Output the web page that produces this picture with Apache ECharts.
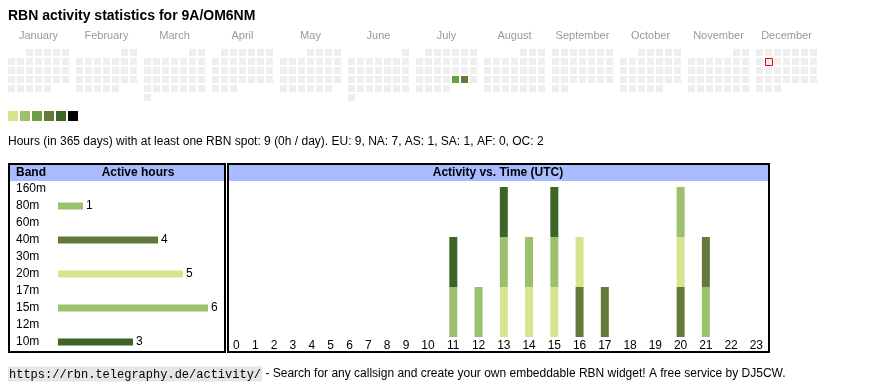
<!DOCTYPE html>
<html><head><meta charset="utf-8">
<script src="https://cdn.jsdelivr.net/npm/echarts@6/dist/echarts.min.js"></script>
<style>html,body{margin:0;padding:0;background:#fff}#c{width:870px;height:390px}</style>
</head><body><div id="c"></div>
<script>
// ---------- data ----------
const callsign = '9A/OM6NM';
const year = 2025;
const monthNames = ['January','February','March','April','May','June','July','August','September','October','November','December'];
const activeDays = [['2025-07-25', 3], ['2025-07-26', 6]];   // hours with spots per day
const todayDate = '2025-12-09';
const levelColors = ['#d9e38c', '#9cc06b', '#6aa045', '#637a3a', '#3d6527', '#000000'];
const levelMins = [1, 2, 3, 5, 9, 17];
const levelMaxs = [1, 2, 4, 8, 16, 24];
const regionNames = ['EU', 'NA', 'AS', 'SA', 'AF', 'OC'];
const regionHours = [9, 7, 1, 1, 0, 2];
const bands = ['160m', '80m', '60m', '40m', '30m', '20m', '17m', '15m', '12m', '10m'];
const bandHours = [0, 1, 0, 4, 0, 5, 0, 6, 0, 3];
const bandColors = ['#000000', '#9cc06b', '#6aa045', '#637a3a', '#3d6527', '#d9e38c', '#6aa045', '#9cc06b', '#637a3a', '#3d6527'];
const hourLabels = ['0','1','2','3','4','5','6','7','8','9','10','11','12','13','14','15','16','17','18','19','20','21','22','23'];
// band active in each UTC hour, stacked bottom -> top
const layer1 = ['','','','','','','','','','','','15m','15m','20m','20m','20m','40m','40m','','','40m','15m','',''];
const layer2 = ['','','','','','','','','','','','10m','','15m','15m','15m','20m','','','','20m','40m','',''];
const layer3 = ['','','','','','','','','','','','','','10m','','10m','','','','','80m','','',''];

// ---------- derived ----------
const dayMap = {};
activeDays.forEach(d => { dayMap[d[0]] = d[1]; });
const calData = [];
for (let m = 0; m < 12; m++) {
  const first = new Date(Date.UTC(year, m, 1));
  const firstWd = (first.getUTCDay() + 6) % 7;
  const nDays = new Date(Date.UTC(year, m + 1, 0)).getUTCDate();
  for (let d = 1; d <= nDays; d++) {
    const idx = firstWd + d - 1;
    const ds = year + '-' + String(m + 1).padStart(2, '0') + '-' + String(d).padStart(2, '0');
    calData.push([m, idx % 7, Math.floor(idx / 7), dayMap[ds] || 0, ds === todayDate ? 1 : 0]);
  }
}
const totalHours = activeDays.reduce((s, d) => s + d[1], 0);
const statsText = 'Hours (in 365 days) with at least one RBN spot: ' + totalHours + ' (' + Math.round(totalHours / 365) + 'h / day). ' +
  regionNames.map((r, i) => r + ': ' + regionHours[i]).join(', ');

// hour columns (width depends on label length, like a table)
const colPad = 12.4, digitW = 6.4;
const hourCenters = [];
let acc = 0;
hourLabels.forEach(h => { const w = colPad + digitW * h.length; hourCenters.push(acc + w / 2); acc += w; });
const timeData = [];
[layer1, layer2, layer3].forEach((layer, level) => {
  layer.forEach((b, i) => { if (b) timeData.push([hourCenters[i], level, bands.indexOf(b)]); });
});

// ---------- layout constants ----------
const monthSlot = 68, cellPitch = 9, cellSize = 7, monthPad = (monthSlot - (6 * cellPitch + cellSize)) / 2;
const FONT = 'Liberation Sans, Arial, sans-serif';

const chart = echarts.init(document.getElementById('c'));
chart.setOption({
  animation: false,
  backgroundColor: '#fff',
  title: {
    text: 'RBN activity statistics for ' + callsign, left: 8, top: 8, padding: 0,
    textStyle: { fontFamily: FONT, fontSize: 14, fontWeight: 'bold', color: '#000', lineHeight: 16 }
  },
  visualMap: {
    type: 'piecewise', seriesIndex: 0, dimension: 3, orient: 'horizontal',
    left: 8, top: 111, padding: 0, itemWidth: 10, itemHeight: 10, itemGap: 2, itemSymbol: 'rect',
    showLabel: false, selectedMode: false, hoverLink: false,
    pieces: levelColors.map((c, i) => ({ min: levelMins[i], max: levelMaxs[i], color: c })),
    outOfRange: { color: '#eeeeee' }
  },
  grid: [
    { left: 4.5, top: 49, width: 816, height: 54 },
    { left: 58, top: 180.5, width: 150, height: 170 },
    { left: 227, top: 187, width: 542, height: 150 }
  ],
  xAxis: [
    { gridIndex: 0, type: 'value', min: 0, max: 816, show: false },
    { gridIndex: 0, type: 'category', position: 'top', data: monthNames,
      axisLine: { show: false }, axisTick: { show: false }, splitLine: { show: false },
      axisLabel: { color: '#999', fontFamily: FONT, fontSize: 11, margin: 8, interval: 0 } },
    { gridIndex: 1, type: 'value', min: 0, max: 6, show: false },
    { gridIndex: 2, type: 'value', min: 0, max: acc,
      axisLine: { show: false }, axisTick: { show: false }, splitLine: { show: false },
      axisLabel: { customValues: hourCenters, color: '#000', fontFamily: FONT, fontSize: 12, margin: 3,
        formatter: function (v) {
          let best = 0;
          hourCenters.forEach((c, i) => { if (Math.abs(c - v) < Math.abs(hourCenters[best] - v)) best = i; });
          return hourLabels[best];
        } } }
  ],
  yAxis: [
    { gridIndex: 0, type: 'value', min: 0, max: 54, inverse: true, show: false },
    { gridIndex: 1, type: 'category', data: bands, inverse: true,
      axisLine: { show: false }, axisTick: { show: false }, splitLine: { show: false },
      axisLabel: { align: 'left', margin: 42, color: '#000', fontFamily: FONT, fontSize: 12 } },
    { gridIndex: 2, type: 'value', min: 0, max: 3, show: false }
  ],
  graphic: [
    { type: 'rect', shape: { x: 10, y: 165, width: 214, height: 16 }, style: { fill: '#aabbff' }, silent: true },
    { type: 'rect', shape: { x: 229, y: 165, width: 539, height: 16 }, style: { fill: '#aabbff' }, silent: true },
    { type: 'rect', shape: { x: 9, y: 164, width: 216, height: 188 }, style: { fill: 'none', stroke: '#000', lineWidth: 2 }, silent: true },
    { type: 'rect', shape: { x: 228, y: 164, width: 541, height: 188 }, style: { fill: 'none', stroke: '#000', lineWidth: 2 }, silent: true },
    { type: 'text', x: 16, y: 173, style: { text: 'Band', fill: '#000', font: 'bold 12px ' + FONT, align: 'left', verticalAlign: 'middle' }, silent: true },
    { type: 'text', x: 138, y: 173, style: { text: 'Active hours', fill: '#000', font: 'bold 12px ' + FONT, align: 'center', verticalAlign: 'middle' }, silent: true },
    { type: 'text', x: 498, y: 173, style: { text: 'Activity vs. Time (UTC)', fill: '#000', font: 'bold 12px ' + FONT, align: 'center', verticalAlign: 'middle' }, silent: true },
    { type: 'text', x: 8, y: 142, style: { text: statsText, fill: '#000', font: '12px ' + FONT, align: 'left', verticalAlign: 'middle' }, silent: true },
    { type: 'text', x: 8, y: 374, silent: true, style: {
        text: '{u|https://rbn.telegraphy.de/activity/}{t| - Search for any callsign and create your own embeddable RBN widget! A free service by DJ5CW.}',
        align: 'left', verticalAlign: 'middle',
        rich: {
          u: { fontFamily: 'Liberation Mono, monospace', fontSize: 12, color: '#333', backgroundColor: '#e6e6e6', padding: [2, 1, 1, 1] },
          t: { fontFamily: FONT, fontSize: 12, color: '#000' }
        } } }
  ],
  series: [
    {
      type: 'custom', xAxisIndex: 0, yAxisIndex: 0, silent: true,
      encode: { x: 0, y: 2 },
      data: calData,
      renderItem: function (params, api) {
        const xv = api.value(0) * monthSlot + monthPad + api.value(1) * cellPitch;
        const yv = api.value(2) * cellPitch;
        const p = api.coord([xv, yv]);
        const s = api.size([cellSize, cellSize]);
        const children = [{ type: 'rect', shape: { x: p[0], y: p[1], width: s[0], height: s[1] }, style: { fill: api.visual('color') } }];
        if (api.value(4)) {
          children.push({ type: 'rect', shape: { x: p[0] + 0.5, y: p[1] + 0.5, width: s[0], height: s[1] }, style: { fill: 'none', stroke: '#ee0000', lineWidth: 1 } });
        }
        return { type: 'group', children: children };
      }
    },
    {
      type: 'bar', xAxisIndex: 2, yAxisIndex: 1, barWidth: 7, silent: true,
      data: bandHours.map((v, i) => ({ value: v, itemStyle: { color: bandColors[i] } })),
      label: { show: true, position: 'right', distance: 3, color: '#000', fontFamily: FONT, fontSize: 12,
        formatter: p => p.value > 0 ? String(p.value) : '' }
    },
    {
      type: 'custom', xAxisIndex: 3, yAxisIndex: 2, silent: true,
      encode: { x: 0, y: 1 },
      data: timeData,
      renderItem: function (params, api) {
        const x = api.value(0), lvl = api.value(1);
        const lo = api.coord([x, lvl]);
        const hi = api.coord([x, lvl + 1]);
        const w = 8;
        return { type: 'rect', shape: { x: lo[0] - w / 2, y: hi[1], width: w, height: lo[1] - hi[1] },
          style: { fill: bandColors[api.value(2)] } };
      }
    }
  ]
});
</script>
</body></html>
